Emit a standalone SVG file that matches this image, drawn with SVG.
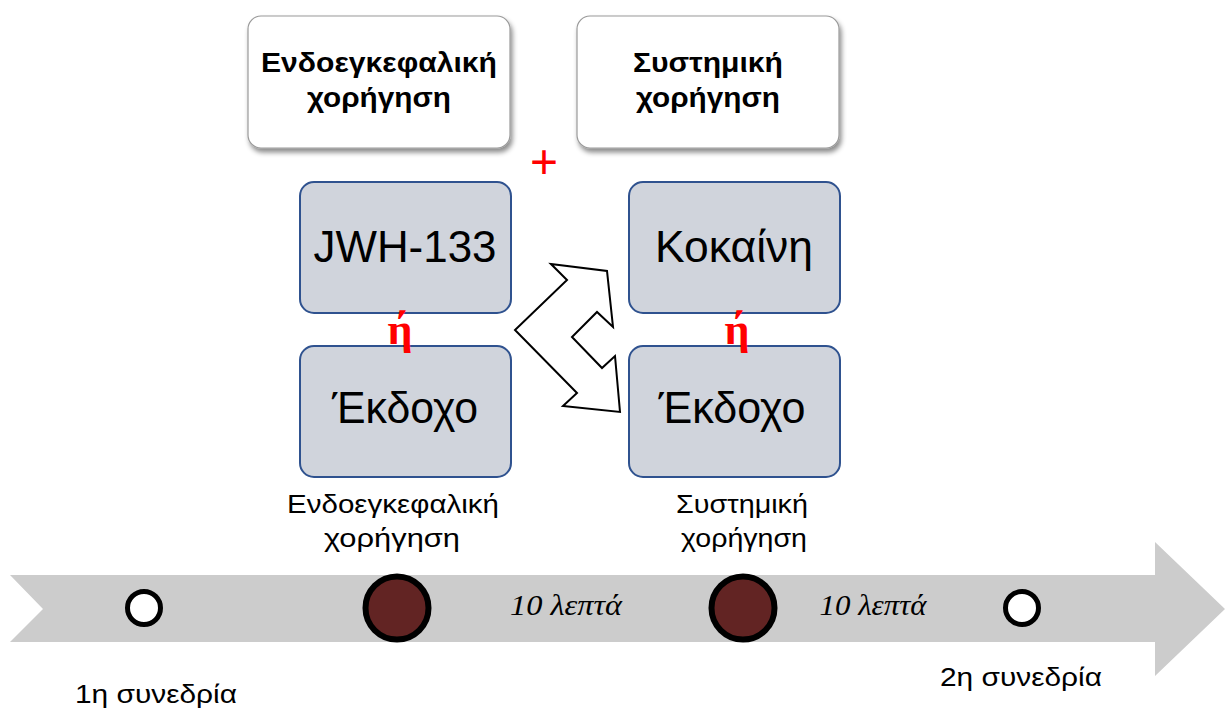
<svg xmlns="http://www.w3.org/2000/svg" width="1225" height="710" viewBox="0 0 1225 710">
  <defs>
    <filter id="shadow" x="-10%" y="-10%" width="125%" height="130%">
      <feDropShadow dx="2" dy="4" stdDeviation="2.5" flood-color="#000" flood-opacity="0.45"/>
    </filter>
    <style>
      .head { fill: #fff; stroke: #9a9a9a; stroke-width: 1.2; filter: url(#shadow); }
      .headtxt { font-family: "Liberation Sans", Arial, sans-serif; font-weight: bold; font-size: 27px; fill: #000; text-anchor: middle; }
      .drug { fill: #d0d4dc; stroke: #2f528f; stroke-width: 2; }
      .drugtxt { font-family: "Liberation Sans", Arial, sans-serif; font-size: 45px; fill: #000; text-anchor: middle; }
      .or { font-family: "Liberation Serif", "Times New Roman", serif; font-weight: bold; font-size: 44px; fill: #ff0000; text-anchor: middle; }
      .lbl { font-family: "Liberation Sans", Arial, sans-serif; font-size: 26px; fill: #000; text-anchor: middle; }
      .time { font-family: "Liberation Serif", "Times New Roman", serif; font-style: italic; font-size: 30px; fill: #000; text-anchor: middle; }
      .session { fill: #fff; stroke: #000; stroke-width: 5; }
      .dose { fill: #622423; stroke: #000; stroke-width: 6; }
    </style>
  </defs>

  <!-- timeline band -->
  <g id="timeline">
    <polygon points="10,575 1155,575 1155,542 1225,609 1155,676 1155,642 10,642 43,609" fill="#cccccc"/>
  </g>

  <!-- route-of-administration headers -->
  <g id="header-icv">
    <rect class="head" x="248" y="16" width="262" height="132" rx="13"/>
    <text class="headtxt" x="379" y="72" textLength="236" lengthAdjust="spacingAndGlyphs">Ενδοεγκεφαλική</text>
    <text class="headtxt" x="379" y="107" textLength="144" lengthAdjust="spacingAndGlyphs">χορήγηση</text>
  </g>
  <g id="header-systemic">
    <rect class="head" x="577" y="16" width="262" height="132" rx="13"/>
    <text class="headtxt" x="708" y="72" textLength="150" lengthAdjust="spacingAndGlyphs">Συστημική</text>
    <text class="headtxt" x="708" y="107" textLength="144" lengthAdjust="spacingAndGlyphs">χορήγηση</text>
  </g>

  <g id="plus">
    <text x="544" y="178" font-family="Liberation Sans, Arial, sans-serif" font-size="48" fill="#ff0000" text-anchor="middle">+</text>
  </g>

  <!-- treatment boxes -->
  <g id="jwh133">
    <rect class="drug" x="300" y="182" width="211" height="131" rx="14"/>
    <text class="drugtxt" x="405" y="262" textLength="183" lengthAdjust="spacingAndGlyphs">JWH-133</text>
  </g>
  <g id="vehicle-icv">
    <rect class="drug" x="300" y="346" width="211" height="131" rx="14"/>
    <text class="drugtxt" x="405" y="423" textLength="146" lengthAdjust="spacingAndGlyphs">Έκδοχο</text>
  </g>
  <g id="cocaine">
    <rect class="drug" x="629" y="182" width="211" height="131" rx="14"/>
    <text class="drugtxt" x="734" y="262" textLength="158" lengthAdjust="spacingAndGlyphs">Κοκαίνη</text>
  </g>
  <g id="vehicle-systemic">
    <rect class="drug" x="629" y="346" width="211" height="131" rx="14"/>
    <text class="drugtxt" x="732" y="423" textLength="147" lengthAdjust="spacingAndGlyphs">Έκδοχο</text>
  </g>

  <g id="or-left"><text class="or" x="400" y="344">ή</text></g>
  <g id="or-right"><text class="or" x="737" y="344">ή</text></g>

  <!-- double-headed bent arrow between the two columns -->
  <g id="connectors">
    <polygon points="551,264 607,271 613,327 597,312 572,337 602,368 615,356 620,412 563,406 577,393 515,330 567,280" fill="#fff" stroke="#000" stroke-width="2" stroke-linejoin="miter"/>
  </g>

  <!-- labels above the timeline -->
  <g id="label-icv">
    <text class="lbl" x="393" y="513" textLength="212" lengthAdjust="spacingAndGlyphs">Ενδοεγκεφαλική</text>
    <text class="lbl" x="392" y="547" textLength="136" lengthAdjust="spacingAndGlyphs">χορήγηση</text>
  </g>
  <g id="label-systemic">
    <text class="lbl" x="742" y="513" textLength="132" lengthAdjust="spacingAndGlyphs">Συστημική</text>
    <text class="lbl" x="744" y="547" textLength="126" lengthAdjust="spacingAndGlyphs">χορήγηση</text>
  </g>

  <!-- timeline events -->
  <g id="session1">
    <circle class="session" cx="144" cy="608" r="16.5"/>
    <text class="lbl" x="156" y="703" textLength="162" lengthAdjust="spacingAndGlyphs">1η συνεδρία</text>
  </g>
  <g id="dose-icv"><circle class="dose" cx="397" cy="608" r="31.5"/></g>
  <g id="interval1"><text class="time" x="566" y="615" textLength="112" lengthAdjust="spacingAndGlyphs">10 λεπτά</text></g>
  <g id="dose-systemic"><circle class="dose" cx="743" cy="608" r="31.5"/></g>
  <g id="interval2"><text class="time" x="873" y="615" textLength="107" lengthAdjust="spacingAndGlyphs">10 λεπτά</text></g>
  <g id="session2">
    <circle class="session" cx="1022" cy="608" r="16.5"/>
    <text class="lbl" x="1021" y="686" textLength="162" lengthAdjust="spacingAndGlyphs">2η συνεδρία</text>
  </g>
</svg>
